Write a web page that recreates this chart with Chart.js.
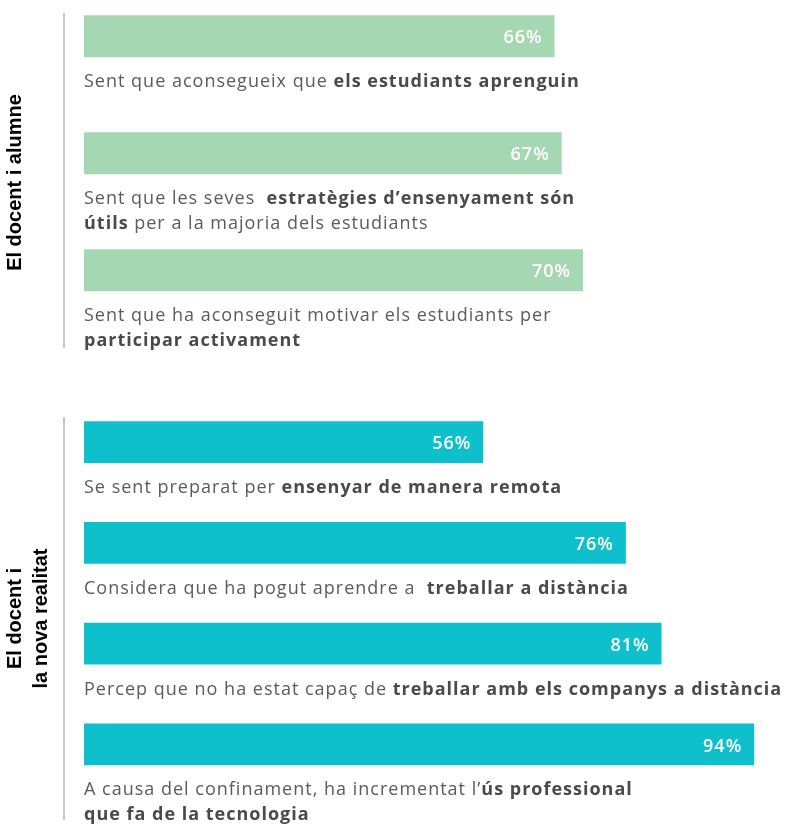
<!DOCTYPE html>
<html>
<head>
<meta charset="utf-8">
<script src="https://cdn.jsdelivr.net/npm/chart.js@4"></script>
<style>
  html, body { margin: 0; padding: 0; background: #fff; }
  #wrap { position: relative; width: 787px; height: 825px; overflow: hidden; }
  .box { position: absolute; left: 0; width: 787px; }
</style>
</head>
<body>
<div id="wrap">
  <div class="box" style="top:0;height:377px"><canvas id="chart1"></canvas></div>
  <div class="box" style="top:377px;height:448px"><canvas id="chart2"></canvas></div>
</div>
<script>
// ** marks bold text, \n a line break
const alumneLabels = [
  'Sent que aconsegueix que **els estudiants aprenguin**',
  'Sent que les seves  **estratègies d’ensenyament són\nútils** per a la majoria dels estudiants',
  'Sent que ha aconseguit motivar els estudiants per\n**participar activament**'
];
const alumneValues = [66, 67, 70];

const realitatLabels = [
  'Se sent preparat per **ensenyar de manera remota**',
  'Considera que ha pogut aprendre a  **treballar a distància**',
  'Percep que no ha estat capaç de **treballar amb els companys a distància**',
  'A causa del confinament, ha incrementat l’**ús professional\nque fa de la tecnologia**'
];
const realitatValues = [56, 76, 81, 94];

const alumneTitle = 'El docent i alumne';
const realitatTitle = ['El docent i', 'la nova realitat'];

const GREEN = '#a5d8b2';
const TEAL = '#0ec0cb';
const TEXT_FONT = '"Open Sans", sans-serif';

// split a label into lines of {text, bold} pieces
function parseLabel(str) {
  const lines = [[]];
  let bold = false;
  str.split('**').forEach((part, k) => {
    if (k > 0) bold = !bold;
    part.split('\n').forEach((piece, j) => {
      if (j > 0) lines.push([]);
      if (piece) lines[lines.length - 1].push({ text: piece, bold });
    });
  });
  return lines;
}

const barLabels = {
  id: 'barLabels',
  afterDatasetsDraw(chart, args, opts) {
    const ctx = chart.ctx;
    const area = chart.chartArea;
    const meta = chart.getDatasetMeta(0);
    const values = chart.data.datasets[0].data;
    ctx.save();

    // thin section line
    ctx.strokeStyle = '#b5b5b5';
    ctx.lineWidth = 1.5;
    ctx.beginPath();
    ctx.moveTo(area.left - 20, area.top + opts.lineTop);
    ctx.lineTo(area.left - 20, area.bottom - opts.lineBottom);
    ctx.stroke();

    meta.data.forEach((bar, i) => {
      ctx.font = '600 18px ' + TEXT_FONT;
      ctx.letterSpacing = '1px';
      ctx.fillStyle = '#ffffff';
      ctx.textAlign = 'right';
      ctx.textBaseline = 'middle';
      ctx.fillText(values[i] + '%', bar.x - 12, bar.y + 2);

      const lines = parseLabel(chart.data.labels[i]);
      let y = bar.y + bar.height / 2 + 30;
      ctx.textAlign = 'left';
      ctx.textBaseline = 'alphabetic';
      lines.forEach(line => {
        let x = bar.base;
        line.forEach(seg => {
          ctx.font = (seg.bold ? 'bold ' : '') + '18px ' + TEXT_FONT;
          ctx.letterSpacing = '1px';
          ctx.fillStyle = seg.bold ? '#4a4a4c' : '#5a5b5d';
          ctx.fillText(seg.text, x, y);
          x += ctx.measureText(seg.text).width;
        });
        y += 25;
      });
    });
    ctx.restore();
  }
};

function makeChart(id, labels, values, color, title, padding, barPct, lineInset) {
  return new Chart(document.getElementById(id), {
    type: 'bar',
    data: {
      labels: labels,
      datasets: [
        { data: values, backgroundColor: color, borderWidth: 0 },
        // empty slot under each bar that holds its text
        { data: values.map(() => null), backgroundColor: 'rgba(0,0,0,0)' }
      ]
    },
    options: {
      indexAxis: 'y',
      responsive: true,
      maintainAspectRatio: false,
      animation: false,
      layout: { padding: padding },
      categoryPercentage: 1,
      barPercentage: barPct,
      scales: {
        x: { display: false, min: 0, max: 98.6 },
        y: {
          grid: { display: false },
          border: { display: false },
          ticks: { display: false },
          title: {
            display: true,
            text: title,
            color: '#000',
            font: { family: 'Liberation Sans, Arial, sans-serif', weight: 'bold', size: 20, lineHeight: 1.3 },
            padding: { top: 2, bottom: 0 }
          },
          afterFit(scale) { scale.width = 84; }
        }
      },
      plugins: {
        legend: { display: false },
        tooltip: { enabled: false },
        barLabels: lineInset
      }
    },
    plugins: [barLabels]
  });
}

makeChart('chart1', alumneLabels, alumneValues, GREEN, alumneTitle,
  { top: 7, bottom: 19, left: 0, right: 0 }, 0.72, { lineTop: 6, lineBottom: 10 });
makeChart('chart2', realitatLabels, realitatValues, TEAL, realitatTitle,
  { top: 40, bottom: 5, left: 0, right: 0 }, 0.83, { lineTop: 0, lineBottom: 0 });
</script>
</body>
</html>
